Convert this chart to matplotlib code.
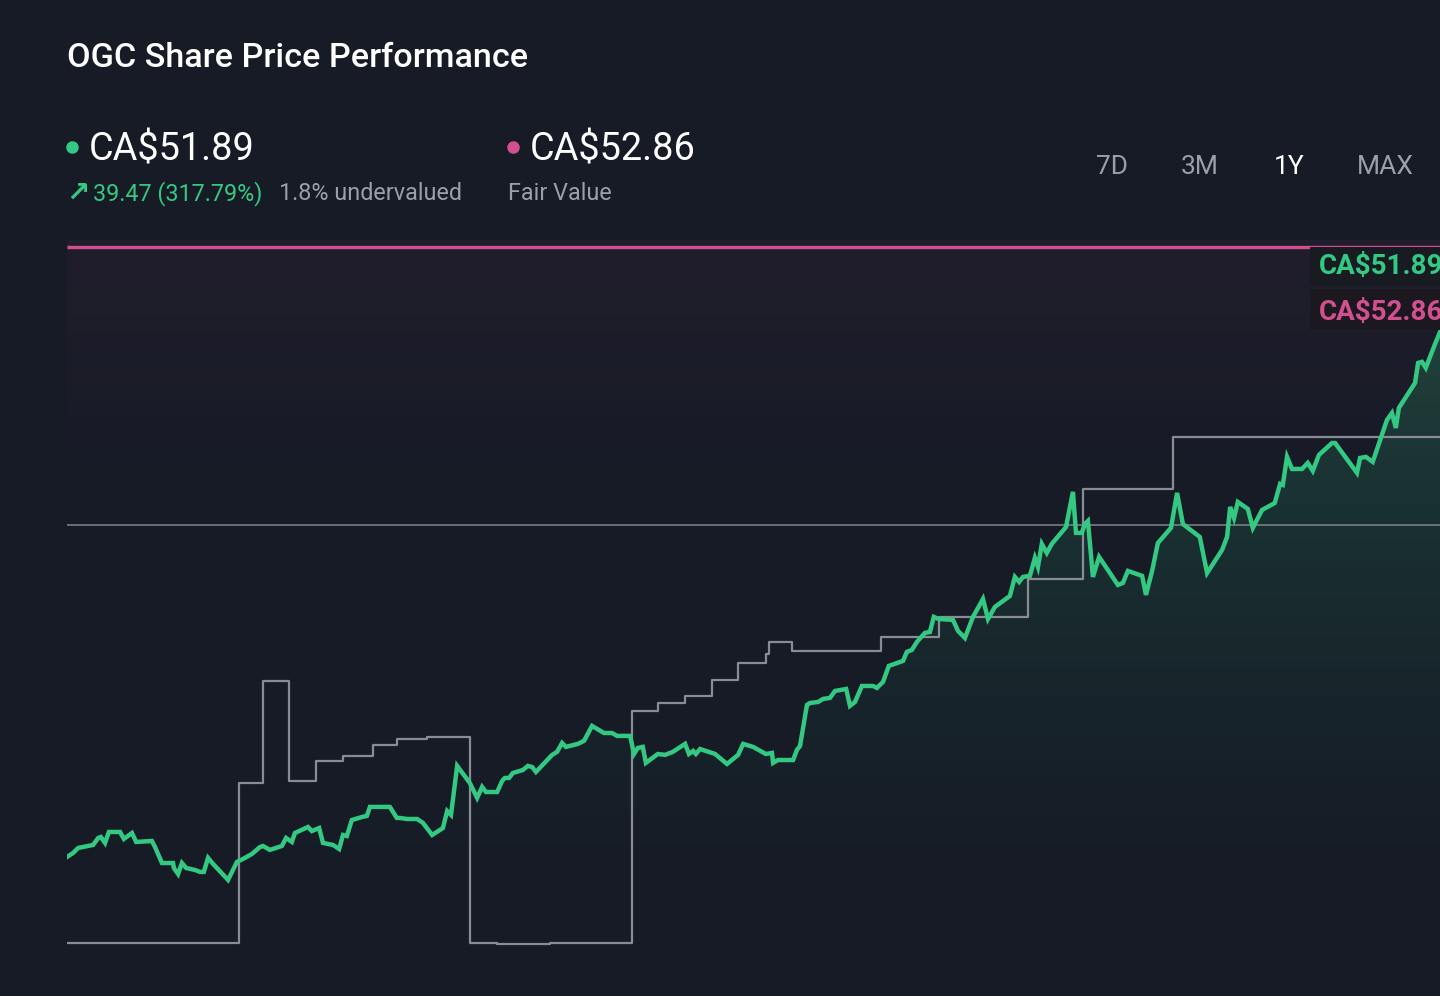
import numpy as np
import matplotlib.pyplot as plt
from matplotlib.patches import Rectangle, Polygon
from matplotlib.lines import Line2D

plt.rcParams['font.family'] = ['Roboto', 'DejaVu Sans']

# precio OGC (CA$) - 1 año, dias desde el inicio
days = [0.0, 1.6, 2.9, 6.8, 8.1, 8.8, 9.9, 10.9, 13.8, 14.8, 16.9, 18.0, 22.1, 22.9,
        24.7, 27.6, 27.8, 28.9, 29.9, 31.0, 33.3, 34.6, 35.6, 36.7, 38.0, 39.0, 41.9,
        44.2, 45.8, 48.1, 50.2, 51.0, 52.8, 55.9, 57.0, 58.5, 59.3, 60.4, 62.7, 63.7,
        65.6, 66.6, 69.2, 70.8, 71.8, 72.8, 74.1, 76.7, 78.0, 78.8, 84.0, 85.8, 86.6,
        88.4, 91.1, 92.6, 95.0, 97.8, 98.9, 99.9, 101.5, 104.8, 106.7, 108.0, 109.0,
        111.9, 113.2, 113.9, 115.0, 116.0, 118.6, 119.9, 121.0, 122.0, 126.2, 127.5,
        128.8, 129.8, 132.9, 134.5, 136.6, 139.7, 141.8, 143.1, 146.5, 147.5, 148.5,
        149.8, 150.6, 153.7, 155.6, 157.6, 160.8, 161.8, 162.9, 163.6, 164.7, 168.6,
        171.7, 174.6, 175.9, 178.5, 181.8, 183.4, 183.7, 185.0, 188.9, 189.9, 190.7,
        192.5, 193.3, 195.4, 196.7, 198.5, 199.8, 202.7, 203.7, 205.0, 206.8, 209.7,
        210.7, 212.3, 213.8, 217.5, 218.5, 219.8, 221.1, 223.2, 224.5, 225.5, 226.8,
        230.5, 231.8, 233.6, 235.7, 238.3, 239.6, 241.4, 245.3, 246.6, 247.7, 248.7,
        250.5, 251.8, 252.6, 253.6, 254.9, 256.2, 259.9, 261.7, 262.5, 264.0, 264.8,
        265.6, 266.9, 268.5, 273.4, 274.7, 276.0, 279.7, 280.7, 282.3, 283.8, 287.2,
        288.8, 290.3, 294.7, 296.6, 300.5, 301.8, 302.6, 303.6, 304.6, 307.2, 308.5,
        310.9, 314.2, 315.6, 316.3, 317.4, 318.7, 321.3, 322.8, 324.1, 325.7, 329.1,
        329.9, 335.6, 336.4, 337.9, 339.7, 343.4, 344.7, 345.7, 346.5, 350.7, 351.5,
        352.5, 353.5, 355.8, 357.2, 361.0, 364.5]
prices = [12.41, 12.68, 13.01, 13.21, 13.67, 13.74, 13.34, 14.07, 14.07, 13.61, 14.00,
          13.41, 13.47, 13.07, 12.01, 12.01, 11.68, 11.28, 12.01, 11.68, 11.55, 11.42,
          11.42, 12.35, 11.95, 11.68, 10.89, 12.08, 12.28, 12.61, 13.07, 13.14, 12.88,
          13.14, 13.67, 13.41, 14.00, 14.13, 14.40, 14.13, 14.33, 13.34, 13.21, 12.94,
          13.87, 13.80, 14.86, 15.06, 15.13, 15.73, 15.73, 15.00, 15.00, 14.93, 14.93,
          14.67, 13.87, 14.33, 15.46, 15.20, 18.45, 17.32, 16.33, 17.06, 16.72, 16.72,
          17.45, 17.65, 17.65, 17.98, 18.18, 18.45, 18.38, 18.05, 19.18, 19.38, 19.97,
          19.71, 19.91, 20.11, 21.10, 20.63, 20.63, 20.44, 20.44, 19.24, 19.64, 19.71,
          18.65, 19.24, 19.18, 19.38, 19.91, 19.24, 19.44, 19.24, 19.57, 19.24, 18.58,
          19.18, 19.91, 19.71, 19.24, 19.31, 18.65, 18.84, 18.84, 19.51, 19.77, 22.49,
          22.62, 22.69, 22.89, 22.96, 23.42, 23.55, 22.43, 22.69, 23.75, 23.75, 23.62,
          24.02, 25.08, 25.41, 26.01, 26.14, 26.67, 27.27, 27.33, 28.33, 28.19, 28.13,
          27.40, 26.93, 28.33, 29.52, 28.19, 28.99, 29.72, 30.98, 30.65, 30.98, 31.05,
          32.24, 31.64, 33.17, 32.57, 33.17, 34.29, 36.62, 33.90, 33.90, 34.49, 34.69,
          30.98, 32.31, 30.45, 30.58, 31.38, 31.05, 29.79, 31.38, 33.23, 34.23, 36.55,
          34.49, 33.63, 31.24, 32.77, 33.63, 35.62, 34.89, 35.95, 35.49, 34.23, 35.42,
          35.88, 37.15, 37.08, 38.94, 38.14, 38.14, 38.54, 38.01, 39.07, 39.86, 39.86,
          37.88, 38.87, 38.94, 38.61, 41.39, 41.85, 40.86, 42.19, 43.84, 45.17, 45.24,
          44.84, 46.36, 47.22, 49.60, 51.89]

# historial del valor justo (escalones)
fv_days = [0.0, 44.7, 51.0, 57.8, 64.8, 71.8, 79.6, 85.8, 93.7, 104.8, 111.9, 118.6,
           125.6, 147.0, 153.7, 160.8, 167.8, 174.6, 181.8, 182.6, 188.6, 211.8, 226.8,
           250.0, 264.3, 287.7, 365.0]
fv_values = [6.71, 17.32, 24.08, 17.45, 18.78, 19.11, 19.84, 20.24, 20.37, 6.71, 6.64,
             6.64, 6.71, 22.09, 22.62, 23.09, 24.15, 25.28, 25.87, 26.67, 26.07, 27.00,
             28.33, 30.85, 36.81, 40.26, 40.26]

precio_actual = 51.89
valor_justo = 52.86
nivel_ref = 34.43
cambio = '39.47 (317.79%)'
botones = ['7D', '3M', '1Y', 'MAX']

BG = '#161b26'
VERDE = '#34c983'
ROSA = '#d2508f'
GRIS_TXT = '#9aa0a9'
W, H = 1440, 996


def fx(px):
    return px / W


def fy(py):
    return 1 - py / H


fig = plt.figure(figsize=(14.4, 9.96), dpi=100, facecolor=BG)
ax = fig.add_axes([fx(67), fy(960), (1470 - 67) / W, (960 - 240) / H])
ax.set_facecolor(BG)
y0, y1 = 5.58, 53.32
ax.set_xlim(0, 365)
ax.set_ylim(y0, y1)
ax.axis('off')

# degradado rosado arriba
yy = np.linspace(y0, y1, 256)
a_top = np.clip((yy - 36.0) / (y1 - 36.0), 0, 1) * 0.06
img = np.zeros((256, 2, 4))
img[..., 0], img[..., 1], img[..., 2] = 0.82, 0.31, 0.56
img[..., 3] = a_top[:, None]
ax.imshow(img, extent=[0, 365, y0, y1], origin='lower', aspect='auto', zorder=0)

# degradado verde bajo la curva
a_g = np.clip((yy - 9.0) / (47.3 - 9.0), 0, 1.1) ** 1.3 * 0.21
img2 = np.zeros((256, 2, 4))
img2[..., 0], img2[..., 1], img2[..., 2] = 0.2, 0.79, 0.51
img2[..., 3] = a_g[:, None]
im = ax.imshow(img2, extent=[0, 365, y0, y1], origin='lower', aspect='auto', zorder=1)
verts = list(zip(days, prices)) + [(days[-1], y0), (days[0], y0)]
poly = Polygon(verts, closed=True, facecolor='none', edgecolor='none')
ax.add_patch(poly)
im.set_clip_path(poly)

ax.axhline(nivel_ref, color='#7f848d', lw=1.1, zorder=2)
ax.step(fv_days, fv_values, where='post', color='#878c95', lw=1.6, zorder=3)
ax.plot(days, prices, color=VERDE, lw=3.2, zorder=4, solid_joinstyle='miter')
ax.hlines(valor_justo, 0, 365, color=ROSA, lw=2.4, zorder=5)

# etiquetas a la derecha (cortadas en el borde como en el original)
fig.add_artist(Rectangle((fx(1310), fy(286)), fx(140), 39 / H, transform=fig.transFigure,
                         facecolor='#191b22', edgecolor='none', zorder=6))
fig.add_artist(Rectangle((fx(1310), fy(330)), fx(140), 41 / H, transform=fig.transFigure,
                         facecolor='#1b1820', edgecolor='none', zorder=6))
fig.text(fx(1319), fy(274), 'CA$%.2f' % precio_actual, color=VERDE, fontsize=20,
         fontweight='bold', va='baseline', zorder=7)
fig.text(fx(1319), fy(320), 'CA$%.2f' % valor_justo, color=ROSA, fontsize=20,
         fontweight='bold', va='baseline', zorder=7)

# encabezado
fig.text(fx(67), fy(67), 'OGC Share Price Performance', color='white', fontsize=24.6,
         fontweight='medium', va='baseline')
fig.add_artist(Line2D([fx(72)], [fy(147)], marker='o', markersize=8, color=VERDE,
                      transform=fig.transFigure))
fig.add_artist(Line2D([fx(513)], [fy(147)], marker='o', markersize=8, color=ROSA,
                      transform=fig.transFigure))
fig.text(fx(89), fy(160), 'CA$%.2f' % precio_actual, color='white', fontsize=27.3,
         va='baseline')
fig.text(fx(530), fy(160), 'CA$%.2f' % valor_justo, color='white', fontsize=27.3,
         va='baseline')
fig.text(fx(66), fy(201), '↗', color=VERDE, fontsize=20, fontweight='bold',
         va='baseline', family='DejaVu Sans')
fig.text(fx(93), fy(200), cambio, color=VERDE, fontsize=16.8, va='baseline')
fig.text(fx(279), fy(200), '1.8% undervalued', color=GRIS_TXT, fontsize=16.8, va='baseline')
fig.text(fx(508), fy(200), 'Fair Value', color=GRIS_TXT, fontsize=16.8, va='baseline')

for b, cx in zip(botones, [1112, 1200, 1289, 1385]):
    fig.text(fx(cx), fy(174), b, color='white' if b == '1Y' else GRIS_TXT, fontsize=19,
             ha='center', va='baseline')

fig.savefig('out.png', dpi=100, facecolor=BG)
